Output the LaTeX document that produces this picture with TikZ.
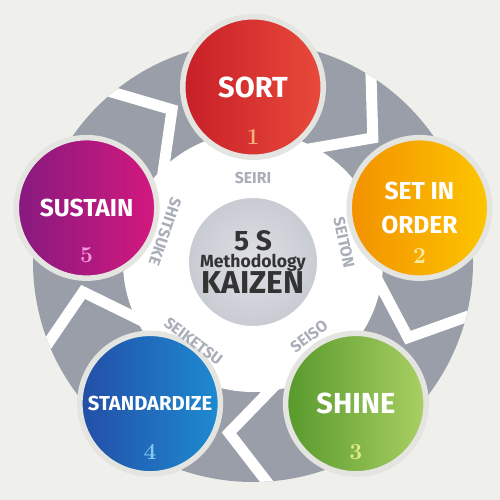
\documentclass[tikz,border=0pt]{standalone}
\usepackage{fontspec}
\newfontfamily\labelfont{Fira Sans}
\usetikzlibrary{shadows}

\definecolor{bgcol}{HTML}{EFEFEC}
\definecolor{rimcol}{HTML}{E4E4E0}
\definecolor{tagcol}{HTML}{A8ADB8}
\definecolor{hubtext}{HTML}{333333}
\definecolor{hubin}{HTML}{DEE0E5}
\definecolor{hubout}{HTML}{C8CBD2}
\definecolor{sortL}{HTML}{C71F28}
\definecolor{sortR}{HTML}{E94A3B}
\definecolor{setL}{HTML}{F29100}
\definecolor{setR}{HTML}{FDC600}
\definecolor{shineL}{HTML}{57992C}
\definecolor{shineR}{HTML}{AAD063}
\definecolor{stdL}{HTML}{234EA6}
\definecolor{stdR}{HTML}{1D8BD1}
\definecolor{sustL}{HTML}{861A80}
\definecolor{sustR}{HTML}{D4187E}
\definecolor{numA}{HTML}{F5B27A}
\definecolor{numB}{HTML}{FDE9A6}
\definecolor{numC}{HTML}{E4EB8A}
\definecolor{numD}{HTML}{82C8F2}
\definecolor{numE}{HTML}{F49AD6}

\pgfdeclareradialshading{ringshade}{\pgfpoint{0bp}{0bp}}{%
  rgb(0bp)=(.60,.62,.66); rgb(29.5bp)=(.60,.62,.66);
  rgb(38bp)=(.70,.72,.75); rgb(50bp)=(.50,.52,.57)}

\begin{document}
\begin{tikzpicture}[
    step circle/.style={circle, minimum size=2.81cm, inner sep=0pt,
      draw=rimcol, line width=0.11cm, text=white, align=center,
      drop shadow={opacity=0.2, shadow xshift=0.03cm, shadow yshift=-0.05cm}},
    big/.style={font=\labelfont\bfseries\fontsize{16.5}{18}\selectfont},
    mid/.style={font=\labelfont\bfseries\fontsize{14}{19}\selectfont},
    small/.style={font=\labelfont\bfseries\fontsize{11.5}{13}\selectfont},
    num/.style={font=\bfseries\fontsize{13}{13}\selectfont},
    tag/.style={text=tagcol, font=\labelfont\bfseries\fontsize{9}{9}\selectfont},
    gap/.style={white, line width=0.22cm, line join=miter},
    hub/.style={circle, minimum size=2.6cm, inner sep=0pt, draw=white,
      line width=0.04cm, inner color=hubin, outer color=hubout,
      text=hubtext, align=center}]
  \useasboundingbox (-5.06,-4.76) rectangle (4.94,5.24);
  \fill[bgcol] (-5.06,-4.76) rectangle (4.94,5.24);

  % ring with chevron gaps
  \shade[shading=ringshade] (0,0) circle (4.4);
  \fill[white] (0,0) circle (2.6);
  \begin{scope}
    \clip (0,0) circle (4.4);
    \foreach \a in {126,54,-18,-90,-162}
      \draw[gap] (\a+6:4.7) -- (\a-8:3.45) -- (\a+12:2.45);
  \end{scope}

  % centre
  \node[hub] (hub) at (0,0)
    {{\labelfont\bfseries\fontsize{16}{17}\selectfont 5 S}\\[-2pt]
     {\labelfont\bfseries\fontsize{10}{11}\selectfont Methodology}\\[-1pt]
     {\labelfont\bfseries\fontsize{18}{18}\selectfont KAIZEN}};

  % steps
  \node[step circle, big, left color=sortL, right color=sortR] (sort) at (90:3.5) {SORT};
  \node[step circle, mid, left color=setL, right color=setR] (set) at (18:3.5) {SET IN\\ORDER};
  \node[step circle, big, left color=shineL, right color=shineR] (shine) at (-54:3.5) {SHINE};
  \node[step circle, small, left color=stdL, right color=stdR] (std) at (-126:3.5) {STANDARDIZE};
  \node[step circle, mid, left color=sustL, right color=sustR] (sust) at (162:3.5) {SUSTAIN};

  \node[num, text=numA] (n1) at ([yshift=-1cm]sort.center) {1};
  \node[num, text=numB] (n2) at ([yshift=-0.96cm]set.center) {2};
  \node[num, text=numC] (n3) at ([yshift=-0.98cm]shine.center) {3};
  \node[num, text=numD] (n4) at ([yshift=-0.96cm]std.center) {4};
  \node[num, text=numE] (n5) at ([yshift=-0.94cm]sust.center) {5};

  % japanese terms
  \node[tag] (seiri) at (90:1.68) {SEIRI};
  \node[tag, rotate=-78] (seiton) at (12:1.86) {SEITON};
  \node[tag, rotate=37] (seiso) at (-53:1.86) {SEISO};
  \node[tag, rotate=-37] (seiketsu) at (-127:1.98) {SEIKETSU};
  \node[tag, rotate=-109] (shitsuke) at (161:1.86) {SHITSUKE};
\end{tikzpicture}
\end{document}
